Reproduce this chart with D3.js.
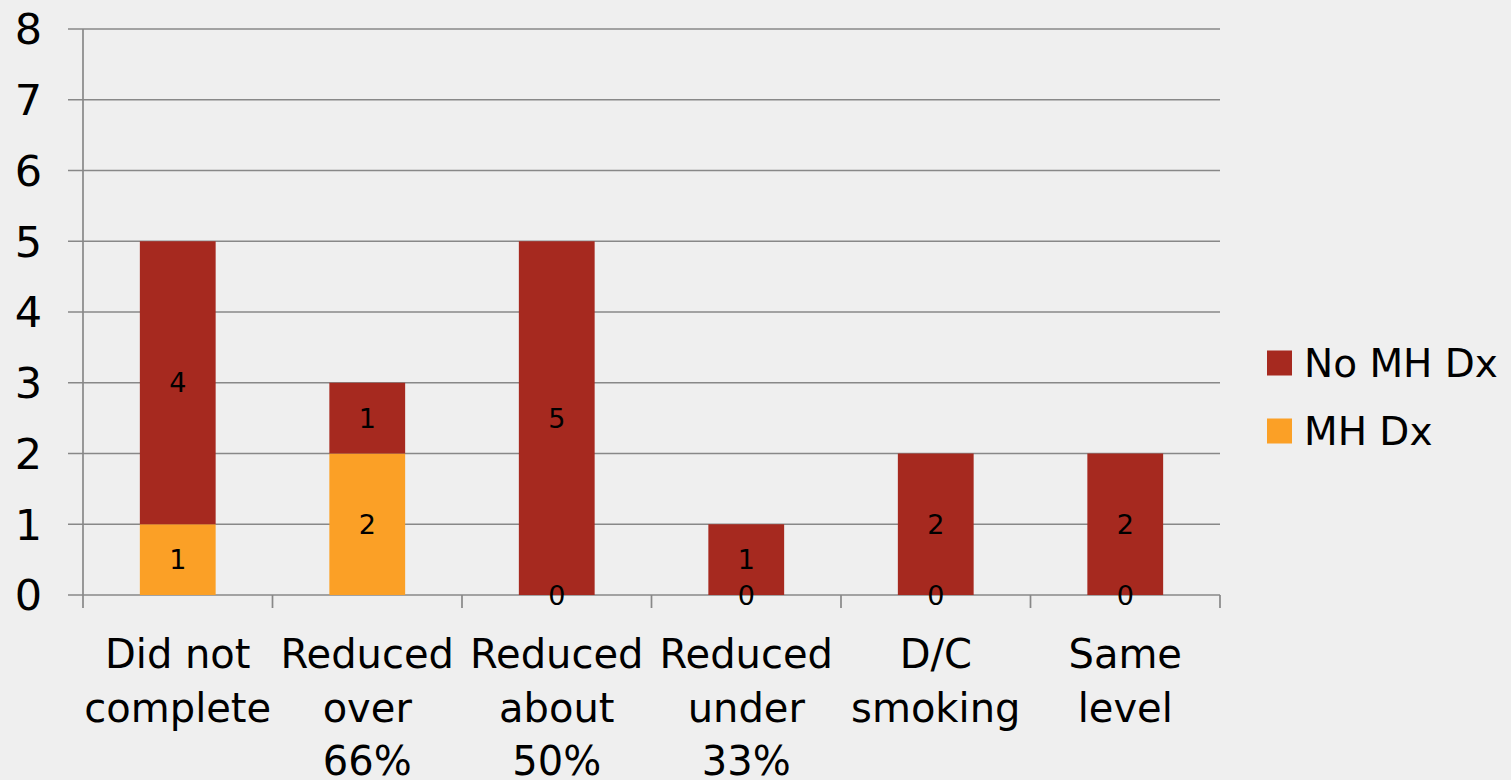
<!DOCTYPE html>
<html><head><meta charset="utf-8">
<script src="https://cdn.jsdelivr.net/npm/d3@7"></script>
<style>html,body{margin:0;padding:0;background:#efefef;}svg{display:block;}</style>
</head><body>
<script>
const categories = [["Did not","complete"],["Reduced","over","66%"],["Reduced","about","50%"],["Reduced","under","33%"],["D/C","smoking"],["Same","level"]];
const seriesNames = ["MH Dx","No MH Dx"];
const mhDx = [1,2,0,0,0,0];
const noMhDx = [4,1,5,1,2,2];
const yTicks = [0,1,2,3,4,5,6,7,8];
const colors = {"MH Dx":"#FBA026","No MH Dx":"#A6291F"};

const W=1511,H=780;
const svg=d3.select("body").append("svg").attr("width",W).attr("height",H);
svg.append("rect").attr("width",W).attr("height",H).attr("fill","#efefef");
const font="DejaVu Sans";
const x=d3.scaleBand().domain(d3.range(categories.length)).range([83,1220]).paddingInner(0).paddingOuter(0);
const y=d3.scaleLinear().domain([0,8]).range([595,29]);
const gridC="#888888";

svg.append("g").selectAll("line").data(yTicks).join("line")
 .attr("x1",68).attr("x2",1220).attr("y1",d=>y(d)).attr("y2",d=>y(d))
 .attr("stroke",gridC).attr("stroke-width",1.7);
svg.append("line").attr("x1",83).attr("x2",83).attr("y1",y(8)).attr("y2",608).attr("stroke",gridC).attr("stroke-width",1.7);
const bounds=d3.range(categories.length+1).map(i=>i<categories.length?x(i):x.range()[1]);
svg.append("g").selectAll("line").data(bounds.slice(1)).join("line")
 .attr("x1",d=>d).attr("x2",d=>d).attr("y1",595).attr("y2",608).attr("stroke",gridC).attr("stroke-width",1.7);
svg.append("g").selectAll("text").data(yTicks).join("text")
 .attr("x",42).attr("y",d=>y(d)).attr("dy","0.36em").attr("text-anchor","end")
 .attr("font-family",font).attr("font-size",43).attr("fill","#000").text(d=>d);

const data=categories.map((c,i)=>({i,"MH Dx":mhDx[i],"No MH Dx":noMhDx[i]}));
const stack=d3.stack().keys(seriesNames)(data);
const bw=x.bandwidth()*0.4;
const g=svg.append("g");
stack.forEach(s=>{
  g.append("g").selectAll("rect").data(s).join("rect")
   .attr("x",d=>x(d.data.i)+x.bandwidth()/2-bw/2).attr("width",bw)
   .attr("y",d=>y(d[1])).attr("height",d=>y(d[0])-y(d[1]))
   .attr("fill",colors[s.key]);
});
stack.forEach(s=>{
  g.append("g").selectAll("text").data(s).join("text")
   .attr("x",d=>x(d.data.i)+x.bandwidth()/2).attr("y",d=>y((d[0]+d[1])/2)).attr("dy","0.36em")
   .attr("text-anchor","middle").attr("font-family",font).attr("font-size",27).attr("fill","#000")
   .text(d=>d[1]-d[0]);
});
const xl=svg.append("g");
categories.forEach((lines,i)=>{
  const t=xl.append("text").attr("x",x(i)+x.bandwidth()/2).attr("y",668).attr("text-anchor","middle")
   .attr("font-family",font).attr("font-size",40).attr("fill","#000");
  lines.forEach((l,j)=>t.append("tspan").attr("x",x(i)+x.bandwidth()/2).attr("y",668+j*53.5).text(l));
});
const leg=[["No MH Dx",363],["MH Dx",431]];
leg.forEach(([k,yy])=>{
  svg.append("rect").attr("x",1267).attr("y",yy-12.5).attr("width",25).attr("height",25).attr("fill",colors[k]);
  svg.append("text").attr("x",1304).attr("y",yy).attr("dy","0.36em").attr("font-family",font).attr("font-size",39).attr("fill","#000").text(k);
});
</script>
</body></html>
